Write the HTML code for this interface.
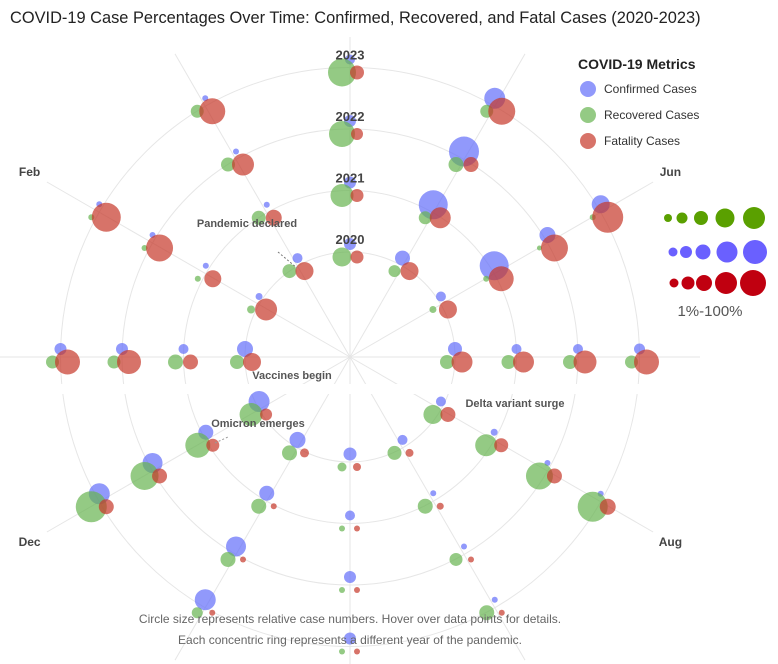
<!DOCTYPE html>
<html><head><meta charset="utf-8"><style>
html,body{margin:0;background:#fff;font-family:"Liberation Sans",sans-serif;overflow:hidden;width:778px;height:664px}
svg{display:block}
svg text{font-family:"Liberation Sans",sans-serif}
</style></head><body>
<svg id="chart" width="778" height="664">
<rect width="778" height="664" fill="#fff"/>
<g id="grid"></g>
<rect x="0" y="384" width="700" height="10" fill="#fff"/>
<g id="marks"></g>
<g id="labels"></g>
<rect x="0" y="0" width="778" height="37" fill="#fff"/>
<text x="10" y="23" font-size="16.4" fill="#222">COVID-19 Case Percentages Over Time: Confirmed, Recovered, and Fatal Cases (2020-2023)</text>
<g>
<rect x="570" y="52" width="150" height="100" fill="#fff" opacity="0.85"/>
<text x="578" y="69" font-size="14" font-weight="bold" fill="#222">COVID-19 Metrics</text>
<g><circle cx="588" cy="89" r="8" fill="#636efa" opacity="0.7"/><text x="604" y="93" font-size="12" fill="#333">Confirmed Cases</text></g>
<g><circle cx="588" cy="115" r="8" fill="#66b450" opacity="0.7"/><text x="604" y="119" font-size="12" fill="#333">Recovered Cases</text></g>
<g><circle cx="588" cy="141" r="8" fill="#c6382a" opacity="0.7"/><text x="604" y="145" font-size="12" fill="#333">Fatality Cases</text></g>
</g>
<g>
<circle cx="668" cy="218" r="4" fill="#5aa000"/><circle cx="682" cy="218" r="5.5" fill="#5aa000"/><circle cx="701" cy="218" r="7" fill="#5aa000"/><circle cx="725" cy="218" r="9.5" fill="#5aa000"/><circle cx="754" cy="218" r="11" fill="#5aa000"/>
<circle cx="673" cy="252" r="4.5" fill="#6a60ff"/><circle cx="686" cy="252" r="6" fill="#6a60ff"/><circle cx="703" cy="252" r="7.5" fill="#6a60ff"/><circle cx="727" cy="252" r="10.5" fill="#6a60ff"/><circle cx="755" cy="252" r="12" fill="#6a60ff"/>
<circle cx="674" cy="283" r="4.5" fill="#c00010"/><circle cx="688" cy="283" r="6.5" fill="#c00010"/><circle cx="704" cy="283" r="8" fill="#c00010"/><circle cx="726" cy="283" r="11" fill="#c00010"/><circle cx="753" cy="283" r="13" fill="#c00010"/>
<text x="710" y="316" font-size="15" fill="#555" text-anchor="middle">1%-100%</text>
</g>
<text x="350" y="623" font-size="12" fill="#666" text-anchor="middle">Circle size represents relative case numbers. Hover over data points for details.</text>
<text x="350" y="644" font-size="12" fill="#666" text-anchor="middle">Each concentric ring represents a different year of the pandemic.</text>
</svg>
<script>
const months = ["Jan","Feb","Mar","Apr","May","Jun","Jul","Aug","Sep","Oct","Nov","Dec"];
const years = ["2020","2021","2022","2023"];
// relative size values [month][year]
const confirmed = [
[16,10,12,12],[7,6,6,6],[10,6,6,6],[12,12,12,10],[15,29,30,21],[10,29,16,18],
[14,10,10,11],[10,7,6,6],[10,6,6,6],[13,10,12,12],[16,15,20,21],[21,15,20,21]];
const recovered = [
[14,15,13,13],[8,6,6,6],[14,14,14,13],[19,23,26,28],[12,13,15,13],[7,6,5,6],
[14,14,14,13],[19,22,27,30],[14,15,13,15],[9,6,6,6],[15,15,15,11],[23,25,28,31]];
const fatality = [
[18,15,24,25],[22,17,27,29],[18,16,22,26],[13,13,12,14],[18,21,15,27],[18,25,27,31],
[21,21,23,25],[15,14,15,16],[8,7,6,6],[8,6,6,6],[9,6,6,6],[12,13,15,15]];
const visibleMonthLabels = ["Feb","Jun","Aug","Dec"];
const annotations = [["Pandemic declared",247,223],["Vaccines begin",292,375],["Omicron emerges",258,423],["Delta variant surge",515,403]];

const NS="http://www.w3.org/2000/svg";
const cx=350, cy=357;
function rScale(yi){return 105+61.5*yi;}
function angle(mi){return (180-30*mi)*Math.PI/180;}
function pos(mi,yi){const a=angle(mi),r=rScale(yi);return [cx+r*Math.cos(a), cy-r*Math.sin(a)];}
function sizeScale(v){return v/2;}
function mk(tag,attrs,parent){const e=document.createElementNS(NS,tag);for(const k in attrs)e.setAttribute(k,attrs[k]);parent.appendChild(e);return e;}
const grid=document.getElementById('grid'), marks=document.getElementById('marks'), labels=document.getElementById('labels');
years.forEach((y,yi)=>{
  const c=mk('circle',{cx:cx,cy:cy,r:rScale(yi),fill:'none',stroke:'#e6e6e6','stroke-width':1},grid);
  
  
});
months.forEach((m,mi)=>{
  const a=angle(mi);
  const l=mk('line',{x1:cx,y1:cy,x2:cx+350*Math.cos(a),y2:cy-350*Math.sin(a),stroke:'#e6e6e6','stroke-width':1},grid);
  
  
  if(visibleMonthLabels.indexOf(m)>=0){
    const t=mk('text',{x:cx+370*Math.cos(a),y:cy-370*Math.sin(a)+4,'font-size':12,'font-weight':'bold',fill:'#444','text-anchor':'middle'},labels);
    t.textContent=m;
    
    
  }
});
const series=[[confirmed,'#636efa',0,-8,'confirmed'],[recovered,'#66b450',-8,5,'recovered'],[fatality,'#c6382a',7,5,'fatality']];
months.forEach((m,mi)=>{
  years.forEach((y,yi)=>{
    const [px,py]=pos(mi,yi);
    series.forEach(s=>{
      const c=mk('circle',{cx:px+s[2],cy:py+s[3],r:sizeScale(s[0][mi][yi]),fill:s[1],opacity:0.7},marks);
      
      
    });
  });
});
mk('line',{x1:278,y1:252,x2:297,y2:268,stroke:'#777','stroke-dasharray':'2,2'},labels);
mk('line',{x1:215,y1:443,x2:228,y2:437,stroke:'#999','stroke-dasharray':'2,2'},labels);
years.forEach((y,yi)=>{
  const t=mk('text',{x:cx,y:cy-rScale(yi)-8,'font-size':13,'font-weight':'bold',fill:'#444','text-anchor':'middle'},labels);
  t.textContent=y;
  
  
});
annotations.forEach(a=>{
  const t=mk('text',{x:a[1],y:a[2]+4,'font-size':11,'font-weight':'bold',fill:'#555','text-anchor':'middle'},labels);
  t.textContent=a[0];
  
  
});
</script>
</body></html>
